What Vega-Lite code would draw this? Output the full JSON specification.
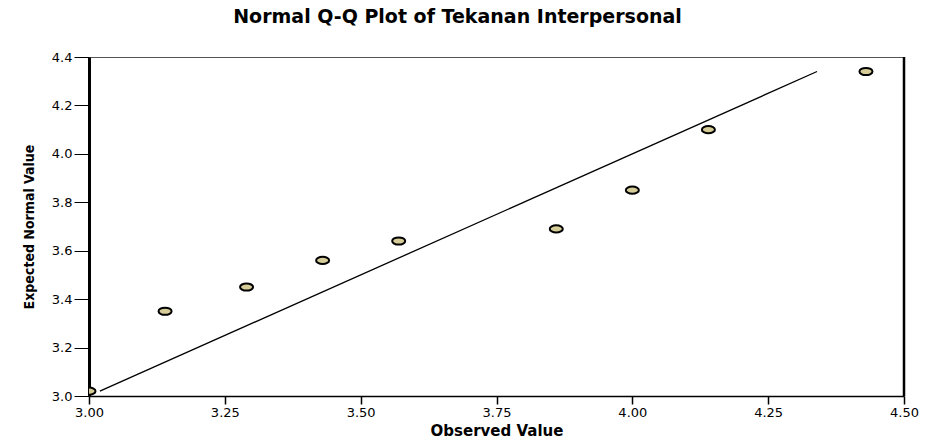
{
  "$schema": "https://vega.github.io/schema/vega-lite/v6.json",
  "width": 815,
  "height": 339,
  "autosize": {"type": "none"},
  "padding": {"left": 89, "top": 57, "right": 23, "bottom": 46},
  "background": "white",
  "config": {
    "view": {"stroke": "#555555", "strokeWidth": 1},
    "font": "DejaVu Sans"
  },
  "title": {
    "text": "Normal Q-Q Plot of Tekanan Interpersonal",
    "font": "DejaVu Sans",
    "fontSize": 19,
    "fontWeight": "bold",
    "color": "black",
    "anchor": "middle",
    "dx": -39,
    "offset": 24
  },
  "datasets": {
    "points": [
      {"observed": 3.00, "expected": 3.02},
      {"observed": 3.14, "expected": 3.35},
      {"observed": 3.29, "expected": 3.45},
      {"observed": 3.43, "expected": 3.56},
      {"observed": 3.57, "expected": 3.64},
      {"observed": 3.86, "expected": 3.69},
      {"observed": 4.00, "expected": 3.85},
      {"observed": 4.14, "expected": 4.10},
      {"observed": 4.43, "expected": 4.34}
    ],
    "line": [
      {"observed": 3.02, "expected": 3.02},
      {"observed": 4.34, "expected": 4.34}
    ]
  },
  "layer": [
    {
      "data": {"name": "line"},
      "mark": {"type": "line", "color": "black", "strokeWidth": 1.3, "clip": true},
      "encoding": {
        "x": {
          "field": "observed", "type": "quantitative",
          "scale": {"domain": [3.0, 4.5], "nice": false, "zero": false},
          "axis": {
            "title": "Observed Value",
            "titleFont": "DejaVu Sans",
            "titleFontSize": 15,
            "titleFontWeight": "bold",
            "titleColor": "black",
            "titlePadding": 4,
            "values": [3.0, 3.25, 3.5, 3.75, 4.0, 4.25, 4.5],
            "format": ".2f",
            "labelFont": "DejaVu Sans",
            "labelFontSize": 13,
            "labelColor": "black",
            "labelPadding": 2,
            "tickSize": 8,
            "tickColor": "black",
            "tickWidth": 1.5,
            "domainColor": "black",
            "domainWidth": 1.5,
            "grid": false,
            "labelFlush": false
          }
        },
        "y": {
          "field": "expected", "type": "quantitative",
          "scale": {"domain": [3.0, 4.4], "nice": false, "zero": false},
          "axis": {
            "title": "Expected Normal Value",
            "titleFont": "DejaVu Sans Condensed",
            "titleFontSize": 14,
            "titleFontWeight": "bold",
            "titleColor": "black",
            "titlePadding": 15,
            "values": [3.0, 3.2, 3.4, 3.6, 3.8, 4.0, 4.2, 4.4],
            "format": ".1f",
            "labelFont": "DejaVu Sans",
            "labelFontSize": 13,
            "labelColor": "black",
            "labelPadding": 2,
            "tickSize": 15,
            "tickColor": "black",
            "tickWidth": 1,
            "domainColor": "black",
            "domainWidth": 3,
            "grid": false,
            "labelFlush": false
          }
        }
      }
    },
    {
      "data": {"values": [{"edge": 4.5}]},
      "mark": {"type": "rule", "color": "black", "strokeWidth": 2.5},
      "encoding": {
        "x": {"field": "edge", "type": "quantitative"}
      }
    },
    {
      "data": {"name": "points"},
      "mark": {
        "type": "point",
        "shape": "M -1 0 A 1 0.55 0 1 0 1 0 A 1 0.55 0 1 0 -1 0 Z",
        "size": 170,
        "filled": true,
        "fill": "#d6cc98",
        "stroke": "black",
        "strokeWidth": 2,
        "opacity": 1,
        "clip": true
      },
      "encoding": {
        "x": {"field": "observed", "type": "quantitative"},
        "y": {"field": "expected", "type": "quantitative"}
      }
    }
  ]
}
